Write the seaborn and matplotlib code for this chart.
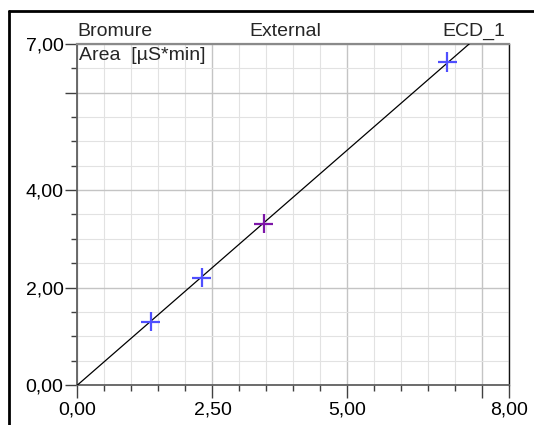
import matplotlib

matplotlib.use("Agg")

import matplotlib.pyplot as plt
import numpy as np
import pandas as pd
import seaborn as sns
from matplotlib.lines import Line2D
from matplotlib.ticker import FixedLocator, MultipleLocator

# calibration points (amount vs area)
amount = [1.355, 2.30, 3.45, 6.85]
area = [1.30, 2.20, 3.31, 6.63]
point_kind = ["std", "std", "check", "std"]

x_ticks = [0.0, 2.5, 5.0, 7.5, 8.0]
x_labels = ["0,00", "2,50", "5,00", "", "8,00"]
y_ticks = [0.0, 2.0, 4.0, 6.0, 7.0]
y_labels = ["0,00", "2,00", "4,00", "", "7,00"]

sns.set_theme(style="white")
plt.rcParams["font.family"] = ["Liberation Sans", "DejaVu Sans"]
FS = 14

df = pd.DataFrame({"amount": amount, "area": area, "kind": point_kind})

fig = plt.figure(figsize=(5.34, 4.25), dpi=100)
ax = fig.add_axes([0.1451, 0.0941, 0.809, 0.8024])

# fit through origin
slope = np.sum(df["amount"] * df["area"]) / np.sum(df["amount"] ** 2)
fit = pd.DataFrame({"x": [0.0, 8.0]})
fit["y"] = slope * fit["x"]
sns.lineplot(data=fit, x="x", y="y", color="black", linewidth=0.9, ax=ax, zorder=3)

sns.scatterplot(data=df, x="amount", y="area", hue="kind", marker="+", s=190,
                linewidth=1.6, palette={"std": "#4f4fff", "check": "#7d16a8"},
                legend=False, ax=ax, zorder=4)

ax.set_xlim(0, 8)
ax.set_ylim(0, 7)
ax.xaxis.set_major_locator(FixedLocator(x_ticks))
ax.yaxis.set_major_locator(FixedLocator(y_ticks))
ax.set_xticklabels(x_labels)
ax.set_yticklabels(y_labels)
ax.xaxis.set_minor_locator(MultipleLocator(0.5))
ax.yaxis.set_minor_locator(MultipleLocator(0.5))
ax.set_xlabel("")
ax.set_ylabel("")

ax.grid(which="minor", color="#e2e2e2", linestyle="-", linewidth=0.8)
ax.grid(which="major", color="#c4c4c4", linestyle="-", linewidth=1.0)
ax.set_axisbelow(True)

ax.tick_params(which="major", direction="out", length=9, width=1.0, color="#404040",
               labelsize=FS, labelcolor="black", bottom=True, left=True)
ax.tick_params(which="minor", direction="out", length=4, width=1.0, color="#404040",
               bottom=True, left=True)
ax.tick_params(axis="x", which="major", pad=3)
ax.tick_params(axis="y", which="major", pad=1)

for side in ["left", "bottom"]:
    ax.spines[side].set_color("#606060")
    ax.spines[side].set_linewidth(1.3)
ax.spines["top"].set_color("#8a8a8a")
ax.spines["top"].set_linewidth(1.6)
ax.spines["right"].set_color("#111111")
ax.spines["right"].set_linewidth(1.0)

ax.annotate("Bromure", xy=(0, 1), xycoords="axes fraction", xytext=(0, 3),
            textcoords="offset points", ha="left", va="bottom", fontsize=FS)
ax.annotate("External", xy=(0.48, 1), xycoords="axes fraction", xytext=(0, 3),
            textcoords="offset points", ha="center", va="bottom", fontsize=FS)
ax.annotate("ECD_1", xy=(0.99, 1), xycoords="axes fraction", xytext=(0, 3),
            textcoords="offset points", ha="right", va="bottom", fontsize=FS)
ax.annotate("Area  [µS*min]", xy=(0, 1), xycoords="axes fraction", xytext=(1, -2),
            textcoords="offset points", ha="left", va="top", fontsize=FS)

# outer frame (top and left edges)
W, H = 534, 425
fig.add_artist(Line2D([9 / W, 1], [1 - 11 / H, 1 - 11 / H], color="black", linewidth=2.0))
fig.add_artist(Line2D([9 / W, 9 / W], [0, 1 - 11 / H], color="black", linewidth=2.0))

fig.savefig("out.png", dpi=100)
